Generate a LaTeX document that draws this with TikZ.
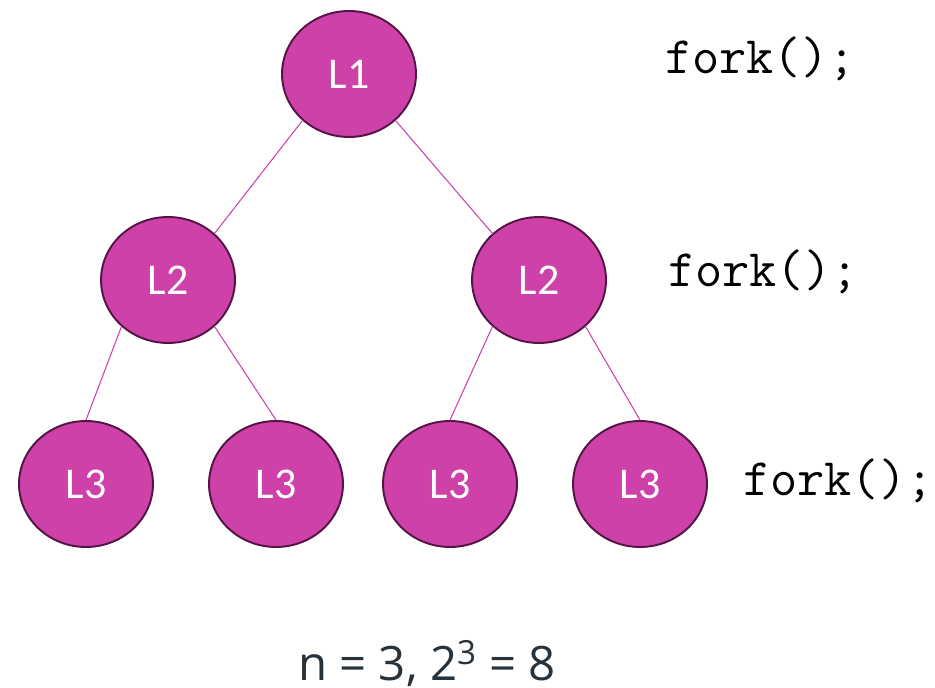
\documentclass[tikz,border=0pt]{standalone}
\usepackage{fontspec}
\setmainfont{Carlito}
\newfontfamily\notefont{Open Sans}
\usetikzlibrary{shapes.geometric, positioning, calc}
\definecolor{procFill}{RGB}{205,65,168}
\definecolor{procEdge}{RGB}{85,20,70}
\definecolor{noteColor}{RGB}{40,50,58}
\tikzset{
    procnode/.style={
        ellipse,
        draw=procEdge,
        line width=1.1pt,
        fill=procFill,
        text=white,
        minimum width=2.68cm,
        minimum height=2.52cm,
        inner sep=0pt,
        font=\fontsize{25}{30}\selectfont
    },
    link/.style={
        draw=procFill,
        line width=0.6pt
    },
    forkcall/.style={
        anchor=base west,
        inner sep=0pt,
        font=\ttfamily\fontsize{30}{34}\selectfont
    }
}

\begin{document}
\begin{tikzpicture}[x=0.02cm, y=-0.02cm]
        \useasboundingbox (0,0) rectangle (935,688);
        % process tree
        \node[procnode] (root) at (349,74) {L1};
        \node[procnode] (left) at (168,280) {L2};
        \node[procnode] (right) at (539,280) {L2};
        \node[procnode] (leafA) at (86,484) {L3};
        \node[procnode] (leafB) at (276,484) {L3};
        \node[procnode] (leafC) at (450,484) {L3};
        \node[procnode] (leafD) at (640,484) {L3};

        \draw[link] (root.225) -- (left.45);
        \draw[link] (root.315) -- (right.135);
        \draw[link] (left.225) -- (leafA.north);
        \draw[link] (left.315) -- (leafB.north);
        \draw[link] (right.225) -- (leafC.north);
        \draw[link] (right.315) -- (leafD.north);

        % calls
        \node[forkcall] (callA) at (665,74) {fork();};
        \node[forkcall] (callB) at (668,287) {fork();};
        \node[forkcall] (callC) at (743,495) {fork();};

        \node[anchor=base, inner sep=0pt, font=\notefont\fontsize{27}{32}\selectfont, text=noteColor] (count) at (427,680) {n = 3, 2\textsuperscript{3} = 8};
    \end{tikzpicture}
\end{document}
